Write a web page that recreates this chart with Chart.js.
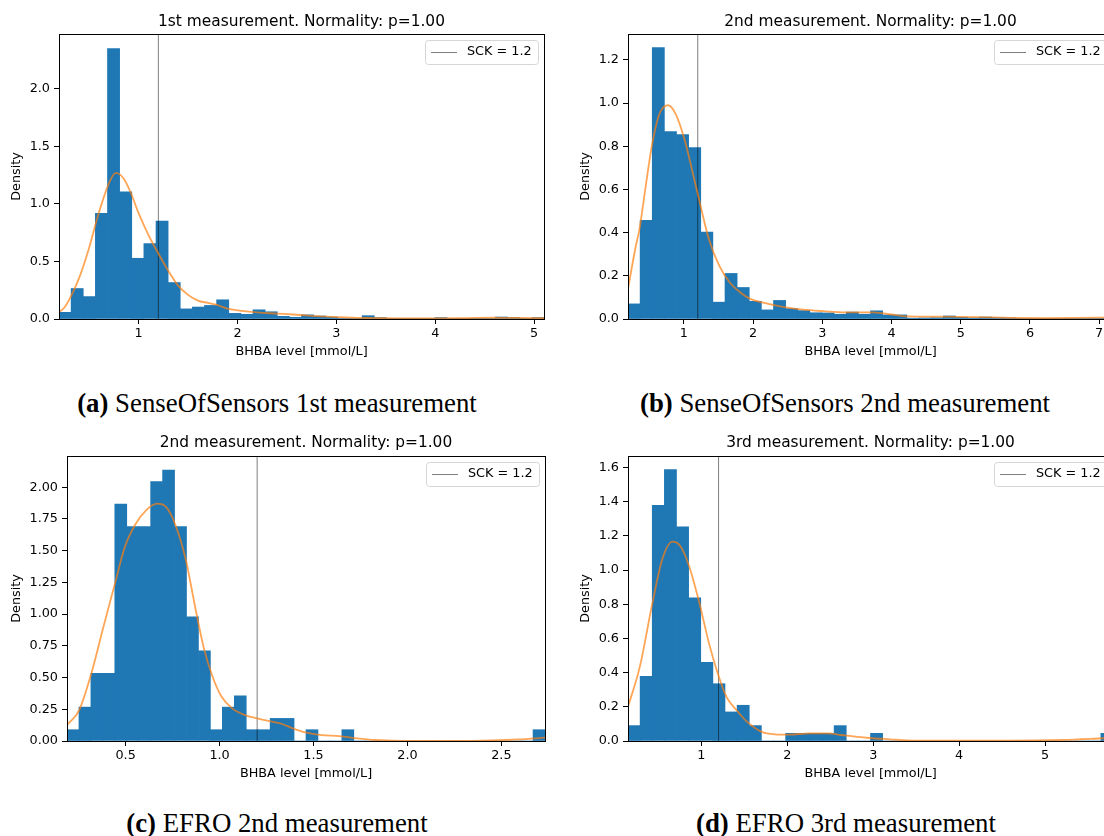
<!DOCTYPE html>
<html lang="en">
<head>
<meta charset="UTF-8">
<title>BHBA histograms</title>
<script src="https://cdn.jsdelivr.net/npm/chart.js@4/dist/chart.umd.min.js"></script>
<style>
  html, body { margin: 0; padding: 0; background: #fff; overflow: hidden; }
  body { width: 1104px; height: 836px; position: relative; }
  canvas { position: absolute; }
  .cap {
    position: absolute; transform: translateX(-50%);
    font-family: "Liberation Serif", serif; font-size: 26.8px; line-height: 30px;
    color: #000; white-space: nowrap;
  }
</style>
</head>
<body>
<canvas id="chartA" width="560" height="370" style="left:0px;top:0px"></canvas>
<canvas id="chartB" width="560" height="370" style="left:560px;top:0px"></canvas>
<canvas id="chartC" width="560" height="370" style="left:0px;top:420px"></canvas>
<canvas id="chartD" width="560" height="370" style="left:560px;top:420px"></canvas>

<div class="cap" style="left:277px;top:388px"><b>(a)</b> SenseOfSensors 1st measurement</div>
<div class="cap" style="left:845px;top:388px"><b>(b)</b> SenseOfSensors 2nd measurement</div>
<div class="cap" style="left:277px;top:808px"><b>(c)</b> EFRO 2nd measurement</div>
<div class="cap" style="left:846px;top:808px"><b>(d)</b> EFRO 3rd measurement</div>

<script>
// histogram densities, 40 bins each
const barsA = [0.058, 0.265, 0.195, 0.918, 2.35, 1.105, 0.528, 0.655, 0.851, 0.317,
               0.088, 0.104, 0.118, 0.167, 0.049, 0.041, 0.080, 0.063, 0.023, 0.015,
               0.036, 0.026, 0.017, 0.006, 0.003, 0.029, 0.012, 0.006, 0.003, 0.003,
               0.006, 0.012, 0.006, 0.003, 0.003, 0.006, 0.017, 0.012, 0.003, 0.012];
const barsB = [0.070, 0.457, 1.257, 0.868, 0.854, 0.794, 0.403, 0.078, 0.211, 0.146,
               0.082, 0.042, 0.086, 0.048, 0.039, 0.029, 0.028, 0.022, 0.032, 0.022,
               0.038, 0.019, 0.019, 0.004, 0.005, 0.006, 0.014, 0.008, 0.005, 0.009,
               0.006, 0.005, 0.003, 0.003, 0.003, 0.003, 0.003, 0.003, 0.003, 0.003];
const barsC = [0.089, 0.267, 0.533, 0.533, 1.867, 1.689, 1.689, 2.045, 2.134, 1.689,
               0.978, 0.711, 0.089, 0.267, 0.356, 0.089, 0.089, 0.178, 0.178, 0,
               0.089, 0, 0, 0.089, 0, 0, 0, 0, 0, 0,
               0, 0, 0, 0, 0, 0, 0, 0, 0, 0.089];
const barsD = [0.090, 0.378, 1.378, 1.587, 1.253, 0.838, 0.460, 0.335, 0.170, 0.209,
               0.090, 0, 0, 0.045, 0.045, 0.045, 0.045, 0.090, 0, 0,
               0.045, 0, 0, 0, 0, 0, 0, 0, 0, 0,
               0, 0, 0, 0, 0, 0, 0, 0, 0, 0.045];

// kde curves (x, density)
const kdeAx = [0.195, 0.25, 0.30, 0.40, 0.50, 0.60, 0.70, 0.77, 0.85, 0.92, 1.00, 1.10, 1.20, 1.30, 1.40, 1.50, 1.60, 1.70,
               1.80, 1.90, 2.00, 2.20, 2.40, 2.60, 2.80, 3.00, 3.20, 3.40, 3.60, 3.80, 4.00, 4.30, 4.60, 4.80, 5.10];
const kdeAy = [0.06, 0.10, 0.17, 0.36, 0.62, 0.93, 1.18, 1.27, 1.22, 1.10, 0.92, 0.73, 0.57, 0.42, 0.29, 0.21, 0.16, 0.14,
               0.12, 0.09, 0.075, 0.057, 0.047, 0.037, 0.025, 0.017, 0.010, 0.008, 0.006, 0.005, 0.006, 0.008, 0.011, 0.009, 0.008];
const kdeBx = [0.192, 0.30, 0.36, 0.45, 0.53, 0.60, 0.66, 0.77, 0.88, 1.01, 1.14, 1.24, 1.36, 1.51, 1.66, 1.81,
               1.96, 2.22, 2.47, 2.72, 3.02, 3.32, 3.72, 3.97, 4.23, 4.73, 5.23, 5.73, 6.24, 7.04, 7.20];
const kdeBy = [0.14, 0.33, 0.42, 0.62, 0.79, 0.90, 0.96, 0.99, 0.95, 0.83, 0.66, 0.525, 0.37, 0.247, 0.17, 0.124,
               0.093, 0.07, 0.054, 0.043, 0.036, 0.031, 0.031, 0.022, 0.012, 0.011, 0.009, 0.005, 0.004, 0.006, 0.006];
const kdeCx = [0.188, 0.253, 0.317, 0.382, 0.443, 0.496, 0.553, 0.61, 0.667, 0.715, 0.763, 0.82, 0.867, 0.915, 0.962, 1.01,
               1.067, 1.143, 1.2, 1.276, 1.333, 1.39, 1.457, 1.543, 1.638, 1.733, 1.828, 1.92, 2.11, 2.4, 2.59, 2.732];
const kdeCy = [0.126, 0.244, 0.53, 0.9, 1.24, 1.53, 1.71, 1.82, 1.87, 1.845, 1.71, 1.43, 1.08, 0.74, 0.51, 0.35,
               0.257, 0.2, 0.178, 0.152, 0.134, 0.1, 0.068, 0.047, 0.039, 0.021, 0.008, 0.003, 0.0, 0.003, 0.013, 0.026];
const kdeDx = [0.146, 0.284, 0.422, 0.543, 0.664, 0.745, 0.846, 0.968, 1.089, 1.19, 1.29, 1.41, 1.53, 1.695,
               1.857, 2.02, 2.26, 2.46, 2.63, 2.79, 2.99, 3.19, 3.39, 3.8, 4.6, 5.21, 5.69, 5.79];
const kdeDy = [0.2, 0.435, 0.786, 1.06, 1.166, 1.146, 1.04, 0.825, 0.571, 0.396, 0.26, 0.18, 0.113, 0.055,
               0.039, 0.037, 0.045, 0.045, 0.035, 0.025, 0.016, 0.01, 0.004, 0.002, 0.002, 0.006, 0.016, 0.018];

const titles = ['1st measurement. Normality: p=1.00', '2nd measurement. Normality: p=1.00',
                '2nd measurement. Normality: p=1.00', '3rd measurement. Normality: p=1.00'];
const sck = 1.2;
const sckLabel = 'SCK = 1.2';
const xLabel = 'BHBA level [mmol/L]';
const yLabel = 'Density';

Chart.defaults.font.family = '"DejaVu Sans", sans-serif';
Chart.defaults.font.size = 12.8;
Chart.defaults.color = '#000';

// matplotlib-like legend box + all four spines
const mplFrame = {
  id: 'mplFrame',
  afterDraw(chart) {
    const { ctx, chartArea: a } = chart;
    const ds = chart.data.datasets.find(d => d.label);
    ctx.save();
    ctx.font = '12.8px "DejaVu Sans"';
    const tw = ctx.measureText(ds.label).width;
    const w = 6 + 26 + 10 + tw + 6, h = 24;
    const right = Math.round(a.right - 6), top = Math.round(a.top + 6);
    const left = right - Math.round(w);
    ctx.fillStyle = 'rgba(255,255,255,0.8)';
    ctx.strokeStyle = '#d6d6d6';
    ctx.lineWidth = 1;
    ctx.beginPath();
    ctx.roundRect(left + 0.5, top + 0.5, Math.round(w), h, 3);
    ctx.fill();
    ctx.stroke();
    ctx.strokeStyle = ds.borderColor;
    ctx.lineWidth = ds.borderWidth;
    ctx.beginPath();
    ctx.moveTo(left + 6, top + h / 2 + 0.5);
    ctx.lineTo(left + 32, top + h / 2 + 0.5);
    ctx.stroke();
    ctx.fillStyle = '#000';
    ctx.textBaseline = 'middle';
    ctx.fillText(ds.label, left + 42, top + h / 2);

    ctx.strokeStyle = '#000';
    ctx.lineWidth = 1;
    const l = Math.round(a.left) + 0.5, t = Math.round(a.top) + 0.5;
    ctx.strokeRect(l, t, Math.round(a.right) - Math.round(a.left), Math.round(a.bottom) - Math.round(a.top));
    ctx.restore();
  }
};

function makePanel(id, p) {
  const w = (p.xMax - p.xMin) / p.bars.length;
  const bars = p.bars.map((v, i) => ({ x: p.xMin + (i + 0.5) * w, y: v }));
  const kde = p.kx.map((x, i) => ({ x: x, y: p.ky[i] }));

  new Chart(document.getElementById(id), {
    type: 'bar',
    data: {
      datasets: [
        {
          type: 'line', data: kde, borderColor: 'rgba(255,127,14,0.7)', borderWidth: 1.8,
          pointRadius: 0, cubicInterpolationMode: 'monotone', fill: false
        },
        {
          type: 'line', label: sckLabel, data: [{ x: sck, y: 0 }, { x: sck, y: p.yMax }],
          borderColor: 'rgba(0,0,0,0.5)', borderWidth: 1, pointRadius: 0, fill: false
        },
        {
          type: 'bar', data: bars, backgroundColor: '#1f77b4', borderWidth: 0,
          barPercentage: 1, categoryPercentage: 1, grouped: false
        }
      ]
    },
    options: {
      responsive: false,
      animation: false,
      devicePixelRatio: 1,
      layout: { padding: { left: 0, right: p.padRight, top: 0, bottom: 0 } },
      plugins: {
        legend: { display: false },
        tooltip: { enabled: false },
        title: {
          display: true, text: p.title, fullSize: false,
          font: { size: 15.4, weight: 'normal' }, color: '#000',
          padding: { top: p.titleTop, bottom: p.titleBottom }
        }
      },
      scales: {
        x: {
          type: 'linear', min: p.xMin, max: p.xMax, offset: false,
          grid: { drawOnChartArea: false, drawTicks: true, tickLength: 5, tickColor: '#000', offset: false },
          border: { display: false },
          ticks: {
            stepSize: p.xStep, includeBounds: false, autoSkip: false, maxRotation: 0, padding: 2,
            callback: v => v.toFixed(p.xDec)
          },
          title: { display: true, text: xLabel, padding: { top: 0, bottom: p.xTitleBottom } },
          afterFit: s => { s.height = p.xHeight; }
        },
        y: {
          type: 'linear', min: 0, max: p.yMax,
          grid: { drawOnChartArea: false, drawTicks: true, tickLength: 5, tickColor: '#000' },
          border: { display: false },
          ticks: {
            stepSize: p.yStep, includeBounds: false, autoSkip: false, padding: 4,
            callback: v => v.toFixed(p.yDec)
          },
          title: { display: true, text: yLabel, padding: { top: p.yTitleTop, bottom: 0 } },
          afterFit: s => { s.width = p.yWidth; }
        }
      }
    },
    plugins: [mplFrame]
  });
}

makePanel('chartA', {
  bars: barsA, kx: kdeAx, ky: kdeAy, title: titles[0],
  xMin: 0.195, xMax: 5.10, xStep: 1, xDec: 0, yMax: 2.478, yStep: 0.5, yDec: 1,
  yWidth: 59, xHeight: 51, padRight: 16, titleTop: 12.5, titleBottom: 3.0,
  xTitleBottom: 10.3, yTitleTop: 9.1
});
makePanel('chartB', {
  bars: barsB, kx: kdeBx, ky: kdeBy, title: titles[1],
  xMin: 0.192, xMax: 7.20, xStep: 1, xDec: 0, yMax: 1.32, yStep: 0.2, yDec: 1,
  yWidth: 68, xHeight: 51, padRight: 7, titleTop: 12.5, titleBottom: 3.0,
  xTitleBottom: 10.3, yTitleTop: 18.3
});
makePanel('chartC', {
  bars: barsC, kx: kdeCx, ky: kdeCy, title: titles[2],
  xMin: 0.188, xMax: 2.732, xStep: 0.5, xDec: 1, yMax: 2.246, yStep: 0.25, yDec: 2,
  yWidth: 67, xHeight: 49, padRight: 15, titleTop: 13.5, titleBottom: 4.0,
  xTitleBottom: 9.0, yTitleTop: 9.1
});
makePanel('chartD', {
  bars: barsD, kx: kdeDx, ky: kdeDy, title: titles[3],
  xMin: 0.146, xMax: 5.79, xStep: 1, xDec: 0, yMax: 1.667, yStep: 0.2, yDec: 1,
  yWidth: 68, xHeight: 49, padRight: 7, titleTop: 13.5, titleBottom: 4.0,
  xTitleBottom: 9.0, yTitleTop: 18.3
});
</script>
</body>
</html>
